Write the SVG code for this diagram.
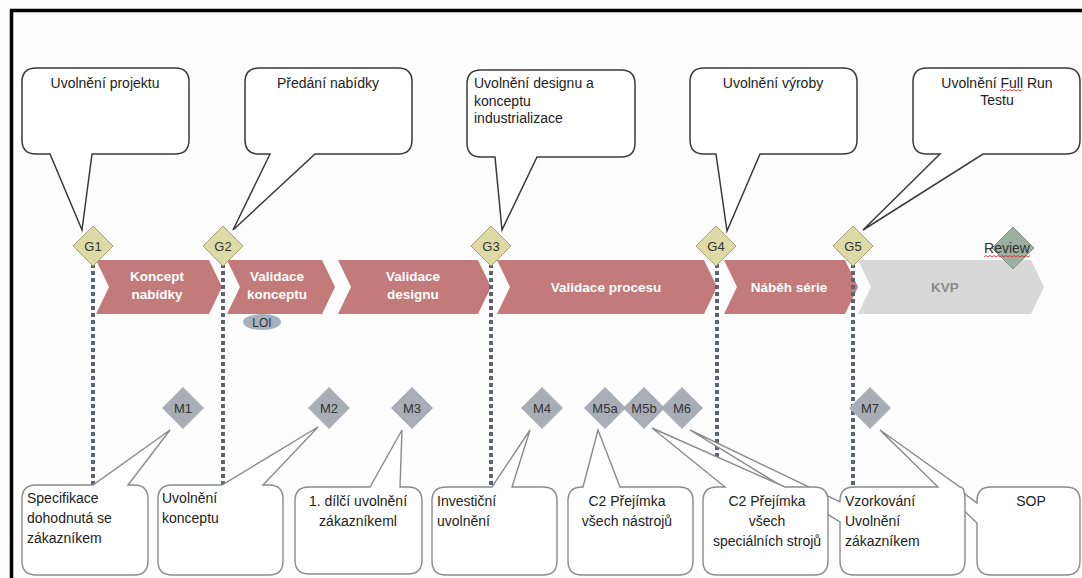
<svg xmlns="http://www.w3.org/2000/svg" width="1082" height="578" viewBox="0 0 1082 578">
<style>
.t{font-family:"Liberation Sans",Arial,sans-serif;font-size:14px;fill:#222}
.m{text-anchor:middle}
.ct{font-family:"Liberation Sans",Arial,sans-serif;font-size:13.5px;font-weight:bold;fill:#fff;text-anchor:middle}
.top{fill:#fff;stroke:#3a3a3a;stroke-width:1.5}
.bot{fill:#fff;stroke:#8a8a8a;stroke-width:1.4}
.chev{fill:#c27a7a}
.dot{stroke:#5b6474;stroke-width:4;stroke-dasharray:4 3;fill:none}
.g{fill:#dedaa6;stroke:#aaa274;stroke-width:1}
.md{fill:#a9aeb6}
.lab{font-family:"Liberation Sans",Arial,sans-serif;font-size:13px;fill:#333;text-anchor:middle}
.wav{fill:none;stroke:#d83030;stroke-width:0.9}
</style>
<rect x="0" y="0" width="1082" height="578" fill="#fdfdfd"/>
<path d="M11.5 578 V10.5 H1082" fill="none" stroke="#000" stroke-width="3.5"/>

<g id="phases">
<g id="ph1"><path class="chev" d="M96 260 H209 L222 287 L209 314 H96 L109 287 Z"/><text class="ct" x="157" y="281">Koncept</text><text class="ct" x="157" y="299">nabídky</text></g>
<g id="ph2"><path class="chev" d="M227 260 H322 L335 287 L322 314 H227 L240 287 Z"/><text class="ct" x="277" y="281">Validace</text><text class="ct" x="277" y="299">konceptu</text></g>
<g id="ph3"><path class="chev" d="M338 260 H478 L491 287 L478 314 H338 L351 287 Z"/><text class="ct" x="413" y="281">Validace</text><text class="ct" x="413" y="299">designu</text></g>
<g id="ph4"><path class="chev" d="M497 260 H704 L717 287 L704 314 H497 L510 287 Z"/><text class="ct" x="606" y="292">Validace procesu</text></g>
<g id="ph5"><path class="chev" d="M724 260 H845 L858 287 L845 314 H724 L737 287 Z"/><text class="ct" x="789" y="292">Náběh série</text></g>
<g id="ph6"><path d="M858 260 H1031 L1044 287 L1031 314 H858 L871 287 Z" fill="#d8d8d8"/><text class="ct" x="945" y="292" style="fill:#8a8a8a">KVP</text></g>
</g>

<g id="connectors">
<line class="dot" x1="93" y1="264" x2="93" y2="486"/>
<line class="dot" x1="223" y1="264" x2="223" y2="486"/>
<line class="dot" x1="491" y1="264" x2="491" y2="486"/>
<line class="dot" x1="717" y1="264" x2="717" y2="462"/>
<line class="dot" x1="853" y1="264" x2="853" y2="490"/>
</g>

<g id="loi"><ellipse cx="262" cy="322" rx="19" ry="8" fill="#a7b0bd"/><text class="lab" x="262" y="326.5" style="font-size:12px">LOI</text></g>

<g id="callouts-top">
<g id="c-g1"><path class="top" d="M36 68 H175 Q189 68 189 82 V140 Q189 154 175 154 H92 L82 230 L50 154 H36 Q22 154 22 140 V82 Q22 68 36 68 Z"/><text class="t m" x="105" y="88">Uvolnění projektu</text></g>
<g id="c-g2"><path class="top" d="M259 68 H398 Q412 68 412 82 V140 Q412 154 398 154 H315 L233 230 L270 154 H259 Q245 154 245 140 V82 Q245 68 259 68 Z"/><text class="t m" x="328" y="88">Předání nabídky</text></g>
<g id="c-g3"><path class="top" d="M481 70 H621 Q635 70 635 84 V143 Q635 157 621 157 H537 L502 230 L495 157 H481 Q467 157 467 143 V84 Q467 70 481 70 Z"/><text class="t" x="474" y="88">Uvolnění designu a</text><text class="t" x="474" y="106">konceptu</text><text class="t" x="474" y="123">industrializace</text></g>
<g id="c-g4"><path class="top" d="M704 68 H843 Q857 68 857 82 V140 Q857 154 843 154 H760 L727 231 L716 154 H704 Q690 154 690 140 V82 Q690 68 704 68 Z"/><text class="t m" x="773" y="88">Uvolnění výroby</text></g>
<g id="c-g5"><path class="top" d="M927 68 H1066 Q1080 68 1080 82 V140 Q1080 154 1066 154 H983 L863 230 L940 154 H927 Q913 154 913 140 V82 Q913 68 927 68 Z"/><text class="t m" x="997" y="88">Uvolnění Full Run</text><text class="t m" x="997" y="105">Testu</text><path class="wav" d="M1000 91 l2 -1.5 l2 1.5 l2 -1.5 l2 1.5 l2 -1.5 l2 1.5 l2 -1.5 l2 1.5 l2 -1.5 l2 1.5 l2 -1.5"/></g>
</g>

<g id="callouts-bottom">
<g id="c-sop"><path class="bot" d="M991 487 H1066 Q1080 487 1080 501 V561 Q1080 575 1066 575 H991 Q977 575 977 561 V523 L882 432 L977 503 V501 Q977 487 991 487 Z"/><text class="t m" x="1031" y="506">SOP</text></g>
<g id="c-m6m7"><path class="bot" d="M854 487 H938 L880 430 L960 487 Q965 487 965 501 V561 Q965 575 951 575 H854 Q840 575 840 561 V522 L690 430 L840 502 V501 Q840 487 854 487 Z"/><text class="t" x="845" y="506">Vzorkování</text><text class="t" x="845" y="526">Uvolnění</text><text class="t" x="845" y="546">zákazníkem</text></g>
<g id="c-m5b"><path class="bot" d="M717 487 H725 L652 428 L785 487 H814 Q828 487 828 501 V561 Q828 575 814 575 H717 Q703 575 703 561 V501 Q703 487 717 487 Z"/><text class="t m" x="767" y="506">C2 Přejímka</text><text class="t m" x="767" y="526">všech</text><text class="t m" x="767" y="546">speciálních strojů</text></g>
<g id="c-m5a"><path class="bot" d="M582 487 H583 L598 430 L620 487 H679 Q693 487 693 501 V561 Q693 575 679 575 H582 Q568 575 568 561 V501 Q568 487 582 487 Z"/><text class="t m" x="627" y="506">C2 Přejímka</text><text class="t m" x="627" y="526">všech nástrojů</text></g>
<g id="c-m4"><path class="bot" d="M446 487 H492 L530 430 L512 487 H543 Q557 487 557 501 V561 Q557 575 543 575 H446 Q432 575 432 561 V501 Q432 487 446 487 Z"/><text class="t" x="437" y="506">Investiční</text><text class="t" x="437" y="526">uvolnění</text></g>
<g id="c-m3"><path class="bot" d="M309 487 H370 L402 430 L400 487 H408 Q422 487 422 501 V560 Q422 574 408 574 H309 Q295 574 295 560 V501 Q295 487 309 487 Z"/><text class="t m" x="358" y="506">1. dílčí uvolnění</text><text class="t m" x="358" y="526">zákazníkeml</text></g>
<g id="c-m2"><path class="bot" d="M172 485 H222 L318 427 L263 485 H269 Q283 485 283 499 V561 Q283 575 269 575 H172 Q158 575 158 561 V499 Q158 485 172 485 Z"/><text class="t" x="162" y="503">Uvolnění</text><text class="t" x="162" y="523">konceptu</text></g>
<g id="c-m1"><path class="bot" d="M36 485 H93 L170 430 L128 485 H134 Q148 485 148 499 V561 Q148 575 134 575 H36 Q22 575 22 561 V499 Q22 485 36 485 Z"/><text class="t" x="27" y="503">Specifikace</text><text class="t" x="27" y="523">dohodnutá se</text><text class="t" x="27" y="543">zákazníkem</text></g>
</g>

<g id="gates">
<g id="G1"><path class="g" d="M93 226 L113 246 L93 266 L73 246 Z"/><text class="lab" x="93" y="250.5">G1</text></g>
<g id="G2"><path class="g" d="M223 226 L243 246 L223 266 L203 246 Z"/><text class="lab" x="223" y="250.5">G2</text></g>
<g id="G3"><path class="g" d="M491 226 L511 246 L491 266 L471 246 Z"/><text class="lab" x="491" y="250.5">G3</text></g>
<g id="G4"><path class="g" d="M716 226 L736 246 L716 266 L696 246 Z"/><text class="lab" x="716" y="250.5">G4</text></g>
<g id="G5"><path class="g" d="M853 226 L873 246 L853 266 L833 246 Z"/><text class="lab" x="853" y="250.5">G5</text></g>
<g id="review"><path d="M1013 227 L1034 248 L1013 269 L992 248 Z" fill="#9db0a0" stroke="#7f9484" stroke-width="1"/><text class="lab" x="1007" y="253" style="font-size:14px">Review</text><path class="wav" d="M984 257 l2 -1.5 l2 1.5 l2 -1.5 l2 1.5 l2 -1.5 l2 1.5 l2 -1.5 l2 1.5 l2 -1.5 l2 1.5 l2 -1.5 l2 1.5 l2 -1.5 l2 1.5 l2 -1.5 l2 1.5 l2 -1.5 l2 1.5 l2 -1.5 l2 1.5 l2 -1.5 l2 1.5 l2 -1.5"/></g>
</g>

<g id="milestones">
<g id="M1"><path class="md" d="M183 387 L204 408 L183 429 L162 408 Z"/><text class="lab" x="183" y="412.5">M1</text></g>
<g id="M2"><path class="md" d="M329 387 L350 408 L329 429 L308 408 Z"/><text class="lab" x="329" y="412.5">M2</text></g>
<g id="M3"><path class="md" d="M412 387 L433 408 L412 429 L391 408 Z"/><text class="lab" x="412" y="412.5">M3</text></g>
<g id="M4"><path class="md" d="M542 387 L563 408 L542 429 L521 408 Z"/><text class="lab" x="542" y="412.5">M4</text></g>
<g id="M5a"><path class="md" d="M605 387 L626 408 L605 429 L584 408 Z"/></g>
<g id="M5b"><path class="md" d="M644 387 L665 408 L644 429 L623 408 Z"/></g>
<g id="M6"><path class="md" d="M682 387 L703 408 L682 429 L661 408 Z"/></g>
<text class="lab" x="605" y="412.5">M5a</text>
<text class="lab" x="644" y="412.5">M5b</text>
<text class="lab" x="682" y="412.5">M6</text>
<g id="M7"><path class="md" d="M870 387 L891 408 L870 429 L849 408 Z"/><text class="lab" x="870" y="412.5">M7</text></g>
</g>
</svg>
